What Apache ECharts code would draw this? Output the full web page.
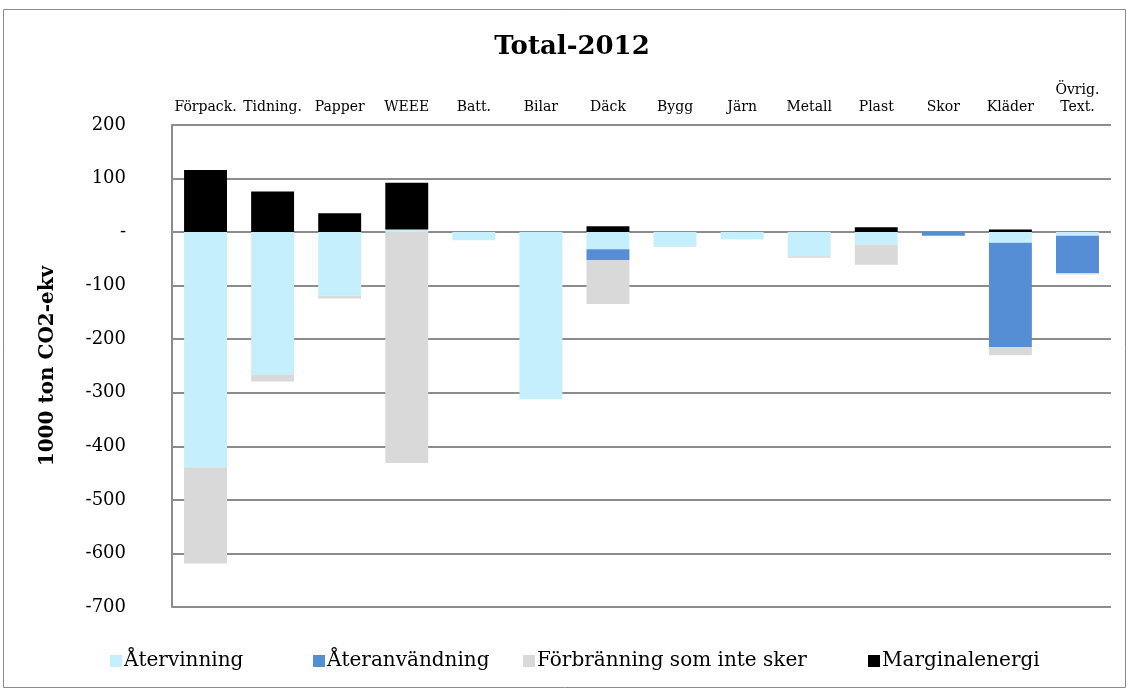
<!DOCTYPE html>
<html>
<head>
<meta charset="utf-8">
<script src="https://cdn.jsdelivr.net/npm/echarts@6/dist/echarts.min.js"></script>
<style>
  html, body { margin: 0; padding: 0; background: #fff; }
  #chart { width: 1129px; height: 691px; }
</style>
</head>
<body>
<div id="chart"></div>
<script>
// Categories (waste streams) and net climate effect per component, 1000 ton CO2-ekv
const categories = ['Förpack.', 'Tidning.', 'Papper', 'WEEE', 'Batt.', 'Bilar', 'Däck',
  'Bygg', 'Järn', 'Metall', 'Plast', 'Skor', 'Kläder', 'Övrig.\nText.'];
const atervinning    = [-439, -266, -119,    5, -15, -312, -32, -27, -14, -45, -23,  0,  -20,  -7];
const ateranvandning = [   0,    0,    0,    0,   0,    0, -20,   0,   0,   0,   0, -7, -195, -70];
const forbranning    = [-180,  -13,   -5, -431,   0,    0, -82,  -1,   0,  -3, -38,  0,  -15,  -2];
const marginalenergi = [ 116,   76,   35,   87,   0,    0,  11,   0,   0,   0,   9,  0,    5,   0];
const seriesNames = ['Återvinning', 'Återanvändning', 'Förbränning som inte sker', 'Marginalenergi'];
const yTicks = { min: -700, max: 200, step: 100 };

const FONT = 'DejaVu Serif';
const chart = echarts.init(document.getElementById('chart'), null, { renderer: 'canvas' });

function bar(name, data, color) {
  return {
    name, type: 'bar', stack: 'total', data,
    barWidth: '64%',
    itemStyle: { color },
    emphasis: { disabled: true }
  };
}

// one legend entry per block so each can sit at its own x position
const legendLeft = [110, 313, 523, 868];
const legends = seriesNames.map((n, i) => ({
  left: legendLeft[i], top: 651, padding: 0,
  icon: 'rect', itemWidth: 12, itemHeight: 12,
  textStyle: { fontFamily: FONT, fontSize: 20, color: '#000', padding: [0, 0, 0, -3] },
  data: [n], selectedMode: false
}));

chart.setOption({
  animation: false,
  backgroundColor: '#fff',
  grid: { left: 172, right: 18, top: 125, bottom: 84, containLabel: false },
  graphic: [
    { type: 'rect', shape: { x: 3.5, y: 9.5, width: 1122, height: 678 },
      style: { fill: null, stroke: '#8c8c8c', lineWidth: 1 }, silent: true },
    { type: 'text', x: 572, y: 47,
      style: { text: 'Total-2012', font: `bold 26px "${FONT}"`, fill: '#000',
               textAlign: 'center', textVerticalAlign: 'middle' } }
  ],
  legend: legends,
  xAxis: {
    type: 'category', data: categories, position: 'top',
    axisLine: { show: false }, axisTick: { show: false },
    axisLabel: { fontFamily: FONT, fontSize: 14, color: '#000', margin: 9, interval: 0, lineHeight: 17 }
  },
  yAxis: {
    type: 'value', min: yTicks.min, max: yTicks.max, interval: yTicks.step,
    name: '1000 ton CO2-ekv', nameLocation: 'middle', nameGap: 114, nameRotate: 90,
    nameTextStyle: { fontFamily: FONT, fontSize: 20, fontWeight: 'bold', color: '#000' },
    axisLine: { show: true, lineStyle: { color: '#8c8c8c', width: 2 } },
    axisTick: { show: false },
    axisLabel: { fontFamily: FONT, fontSize: 18, color: '#000', margin: 46,
                 formatter: v => (v === 0 ? '-' : String(v)) },
    splitLine: { show: true, lineStyle: { color: '#8c8c8c', width: 2 } }
  },
  series: [
    bar(seriesNames[0], atervinning, '#C6EFFE'),
    bar(seriesNames[1], ateranvandning, '#558ED5'),
    bar(seriesNames[2], forbranning, '#D9D9D9'),
    bar(seriesNames[3], marginalenergi, '#000000')
  ]
});
</script>
</body>
</html>
